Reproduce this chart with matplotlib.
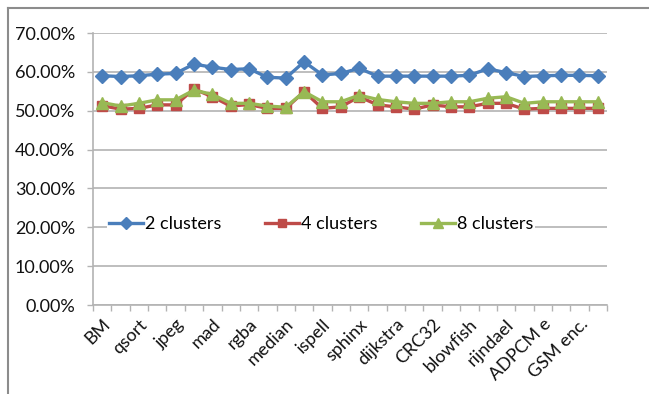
import matplotlib
matplotlib.use("Agg")
import matplotlib.pyplot as plt
from matplotlib.lines import Line2D
from matplotlib.ticker import FixedLocator, PercentFormatter
import numpy as np

# Benchmark names (every other category carries a label)
categories = ["BM", "", "qsort", "", "jpeg", "", "mad", "", "rgba", "",
              "median", "", "ispell", "", "sphinx", "", "dijkstra", "",
              "CRC32", "", "blowfish", "", "rijndael", "", "ADPCM e", "",
              "GSM enc.", ""]

clusters_2 = [59.0, 58.8, 59.0, 59.4, 59.6, 62.0, 61.2, 60.6, 60.8, 58.6,
              58.4, 62.6, 59.2, 59.6, 60.9, 58.9, 58.9, 58.9, 58.9, 58.9,
              59.1, 60.8, 59.8, 58.8, 59.0, 59.1, 59.1, 59.0]
clusters_4 = [51.3, 50.4, 50.6, 51.5, 51.5, 55.6, 53.6, 51.2, 51.6, 50.6,
              50.6, 54.9, 50.6, 51.0, 53.6, 51.5, 51.0, 50.4, 51.5, 51.0,
              51.0, 51.9, 51.9, 50.4, 50.6, 50.6, 50.6, 50.6]
clusters_8 = [52.1, 51.2, 51.9, 52.8, 52.8, 55.3, 54.2, 51.9, 51.9, 51.2,
              50.9, 54.9, 52.3, 52.3, 54.0, 52.9, 52.3, 51.9, 51.9, 52.3,
              52.3, 53.2, 53.6, 51.9, 52.3, 52.3, 52.3, 52.3]

series = [
    ("2 clusters", clusters_2, "#4a7ebb", "D", 7),
    ("4 clusters", clusters_4, "#be4b48", "s", 7),
    ("8 clusters", clusters_8, "#98b954", "^", 8),
]

plt.rcParams["font.family"] = ["Lato", "DejaVu Sans"]
FS = 13

fig = plt.figure(figsize=(6.49, 3.94), dpi=100)
ax = fig.add_axes([93 / 649, 1 - 305 / 394, 514 / 649, 272 / 394])

x = np.arange(len(categories))
for name, vals, color, marker, ms in series:
    ax.plot(x, np.array(vals) / 100, color=color, lw=2.4, marker=marker,
            ms=ms, mec=color, mfc=color, label=name, zorder=3)

grid_c = "#b3b3b3"
ax.set_xlim(-0.5, len(categories) - 0.5)
ax.set_ylim(0, 0.7)
ax.set_yticks(np.arange(0, 0.71, 0.1))
ax.yaxis.set_major_formatter(PercentFormatter(1.0, decimals=2))
ax.grid(axis="y", color=grid_c, lw=1.2, zorder=0)

ax.set_xticks(x[::2])
ax.set_xticklabels(categories[::2], rotation=45, ha="right",
                   rotation_mode="anchor", fontsize=FS, color="#111111")
ax.xaxis.set_minor_locator(FixedLocator(np.arange(-0.5, len(categories), 1)))
ax.tick_params(axis="x", which="major", length=0, pad=8)
ax.tick_params(axis="x", which="minor", length=4, color=grid_c, width=1)
ax.tick_params(axis="y", length=4, color=grid_c, width=1, labelsize=FS,
               labelcolor="#111111", pad=9)

for side in ("top", "right"):
    ax.spines[side].set_visible(False)
for side in ("left", "bottom"):
    ax.spines[side].set_color(grid_c)
    ax.spines[side].set_linewidth(1.2)

leg = ax.legend(loc="center", bbox_to_anchor=(0.444, 0.298), ncol=3,
                frameon=True, fontsize=FS, handlelength=1.9,
                columnspacing=2.4, handletextpad=0.1, borderpad=0.1,
                markerscale=0.85)
leg.get_frame().set_edgecolor("none")
leg.get_frame().set_facecolor("white")
leg.get_frame().set_alpha(1)

# outer chart frame
frame_c = "#8c8c8c"
fig.add_artist(Line2D([8 / 649, 1], [1 - 8 / 394, 1 - 8 / 394],
                      transform=fig.transFigure, color=frame_c, lw=1.5))
fig.add_artist(Line2D([8 / 649, 8 / 649], [1 - 8 / 394, 1 - 393 / 394],
                      transform=fig.transFigure, color=frame_c, lw=1.5))

fig.savefig("out.png", dpi=100)
